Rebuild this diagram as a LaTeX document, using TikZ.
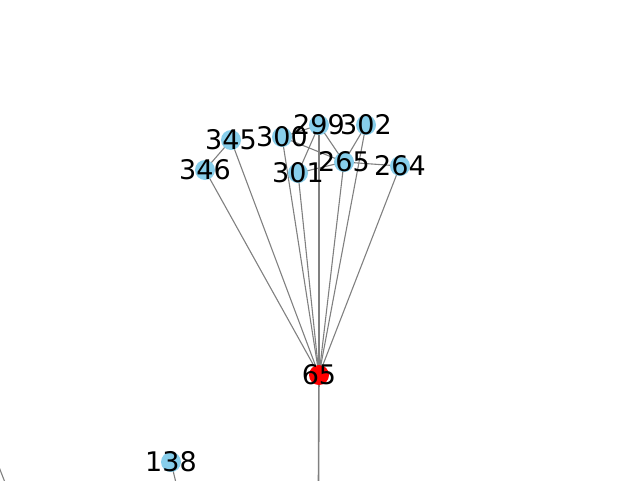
\documentclass[tikz,border=0pt]{standalone}
\usepackage{fontspec}
\setmainfont{DejaVu Sans}
\begin{document}
\begin{tikzpicture}[x=1pt,y=-1pt,
  edge/.style={draw={rgb,255:red,128;green,128;blue,128},line width=1.1pt},
  bnode/.style={circle,fill={rgb,255:red,135;green,206;blue,235},minimum size=20pt,inner sep=0pt},
  rnode/.style={circle,fill=red,minimum size=20pt,inner sep=0pt},
  lbl/.style={font=\fontsize{27}{27}\selectfont,inner sep=0pt,text=black}]
\useasboundingbox (0,0) rectangle (640,480);
\coordinate (n65) at (319,375);
\coordinate (n299) at (319,125);
\coordinate (n302) at (366,125);
\coordinate (n345) at (231,140);
\coordinate (n300) at (282,137);
\coordinate (n346) at (205,170);
\coordinate (n301) at (298,173);
\coordinate (n265) at (344,162);
\coordinate (n264) at (400,166);
\coordinate (n138) at (171,462);
\coordinate (b65) at (318.5,485);
\coordinate (b138) at (176.5,485);
\coordinate (la) at (-1,467);
\coordinate (lb) at (6,485);
% edges
\foreach \v in {346,345,300,301,299,265,302,264} \draw[edge] (n65) -- (n\v);
\draw[edge,line width=1.6pt] (n65) -- (b65);
\draw[edge] (n138) -- (b138);
\draw[edge] (la) -- (lb);
\draw[edge] (n345) -- (n346);
\draw[edge] (n300) -- (n299);
\draw[edge] (n301) -- (n299);
\draw[edge] (n299) -- (n265);
\draw[edge] (n302) -- (n265);
\draw[edge] (n300) -- (n265);
\draw[edge] (n301) -- (n265);
\draw[edge] (n265) -- (n264);
% nodes
\foreach \v in {299,302,345,300,346,301,265,264,138} \node[bnode] (c\v) at (n\v) {};
\node[rnode] (c65) at (n65) {};
% labels
\foreach \v in {299,302,345,300,346,301,265,264,138,65} \node[lbl] (l\v) at (n\v) {\v};
\end{tikzpicture}
\end{document}
